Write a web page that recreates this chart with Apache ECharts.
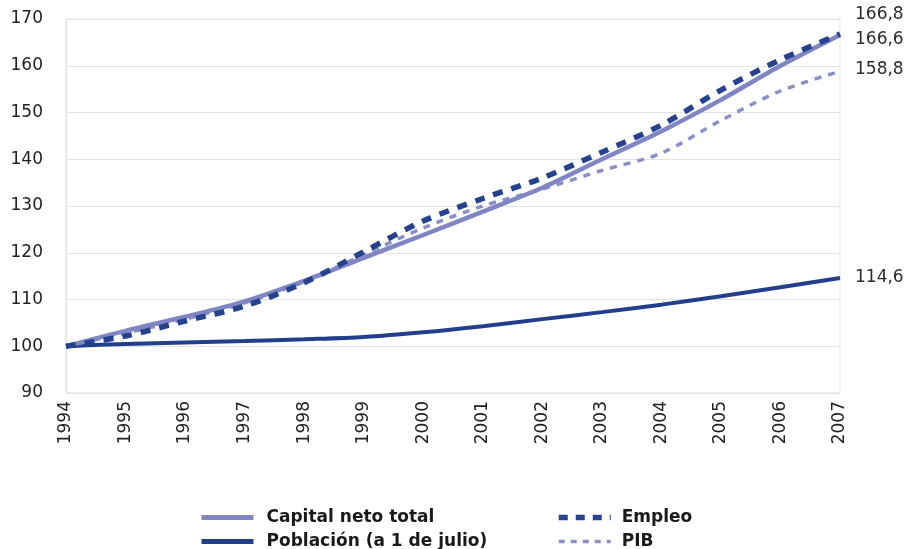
<!DOCTYPE html>
<html>
<head>
<meta charset="utf-8">
<script src="https://cdn.jsdelivr.net/npm/echarts@6/dist/echarts.min.js"></script>
<style>html,body{margin:0;padding:0;background:#fff;}#c{width:908px;height:549px;}</style>
</head>
<body>
<div id="c"></div>
<script>
const years = ['1994','1995','1996','1997','1998','1999','2000','2001','2002','2003','2004','2005','2006','2007'];
const capital = [100, 103.3, 106.3, 109.6, 114.0, 118.9, 123.8, 128.8, 133.9, 140.0, 146.0, 152.7, 160.0, 166.6];
const empleo = [100, 102.2, 105.4, 108.6, 113.6, 120.2, 126.8, 131.6, 136.0, 141.5, 147.3, 154.8, 161.3, 166.8];
const pib = [100, 102.8, 105.8, 109.3, 113.8, 119.6, 125.3, 130.0, 133.6, 137.6, 141.3, 148.3, 154.6, 158.8];
const poblacion = [100, 100.5, 100.8, 101.1, 101.5, 102.0, 103.0, 104.3, 105.8, 107.3, 108.9, 110.7, 112.6, 114.6];
const yTicks = {min: 90, max: 170, interval: 10};

const FONT = 'DejaVu Sans';
function endLabel(offset) {
  return {
    show: true,
    formatter: p => Number(Array.isArray(p.value) ? p.value[1] : p.value).toFixed(1).replace('.', ','),
    color: '#2b2b2b', fontFamily: FONT, fontSize: 17, offset: offset, distance: 10
  };
}
const legendCommon = {
  orient: 'vertical', bottom: -1, padding: 0, itemWidth: 52, itemHeight: 14, itemGap: 7,
  itemStyle: {opacity: 0}
};
const chart = echarts.init(document.getElementById('c'));
chart.setOption({
  animation: false,
  backgroundColor: '#fff',
  grid: {left: 66, right: 68, top: 19, bottom: 156, show: true, borderColor: '#e3e3e3', borderWidth: 1},
  legend: [
    Object.assign({}, legendCommon, {
      data: [
        {name: 'Capital neto total', lineStyle: {width: 5}},
        {name: 'Población (a 1 de julio)', lineStyle: {width: 5}}
      ],
      left: 199,
      textStyle: {fontFamily: FONT, fontWeight: 'bold', fontSize: 17, lineHeight: 14, color: '#1a1a1a', padding: [0, 0, 0, 8]}
    }),
    Object.assign({}, legendCommon, {
      data: [
        {name: 'Empleo', lineStyle: {width: 5.5, type: [9, 8]}},
        {name: 'PIB', lineStyle: {width: 3.5, type: [6, 6]}}
      ],
      left: 556,
      textStyle: {fontFamily: FONT, fontWeight: 'bold', fontSize: 17, lineHeight: 14, color: '#1a1a1a', padding: [0, 0, 0, 6]}
    })
  ],
  xAxis: {
    type: 'category', data: years, boundaryGap: false,
    axisLine: {show: true, lineStyle: {color: '#e3e3e3'}},
    axisTick: {show: false},
    axisLabel: {rotate: 90, margin: 8, fontFamily: FONT, fontSize: 17, color: '#222'},
    splitLine: {show: false}
  },
  yAxis: {
    type: 'value', min: yTicks.min, max: yTicks.max, interval: yTicks.interval,
    axisLine: {show: true, lineStyle: {color: '#e3e3e3'}},
    axisTick: {show: false},
    axisLabel: {margin: 23, fontFamily: FONT, fontSize: 17, color: '#222'},
    splitLine: {show: true, lineStyle: {color: '#e3e3e3', width: 1}}
  },
  series: [
    {
      name: 'Población (a 1 de julio)', type: 'line', data: poblacion, smooth: 0.3, symbol: 'none',
      lineStyle: {color: '#223f8c', width: 4}, itemStyle: {color: '#223f8c'},
      endLabel: endLabel([5, 0]), z: 2
    },
    {
      name: 'PIB', type: 'line', data: pib, smooth: 0.3, symbol: 'none',
      lineStyle: {color: '#8a8fc8', width: 3.5, type: [7, 7]}, itemStyle: {color: '#8a8fc8'},
      endLabel: endLabel([5, -2]), z: 3
    },
    {
      name: 'Capital neto total', type: 'line', data: capital, smooth: 0.3, symbol: 'none',
      lineStyle: {color: '#7f86c3', width: 4.5}, itemStyle: {color: '#7f86c3'},
      endLabel: endLabel([5, 5]), z: 4
    },
    {
      name: 'Empleo', type: 'line', data: empleo, smooth: 0.3, symbol: 'none',
      lineStyle: {color: '#25428e', width: 5.5, type: [10, 9]}, itemStyle: {color: '#25428e'},
      endLabel: endLabel([5, -19]), z: 5
    }
  ]
});
</script>
</body>
</html>
